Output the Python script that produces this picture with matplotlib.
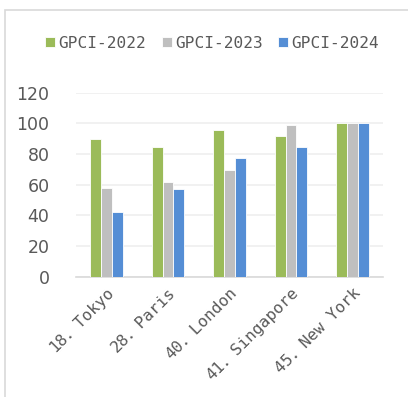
import numpy as np
import matplotlib
matplotlib.use("Agg")
import matplotlib.pyplot as plt
from matplotlib.patches import Rectangle

# GPCI scores by city
cities = ["18．Tokyo", "28．Paris", "40．London", "41．Singapore", "45．New York"]
gpci_2022 = [90, 84.6, 95.5, 92, 100]
gpci_2023 = [58, 61.8, 69.4, 99, 100]
gpci_2024 = [42, 57, 77.6, 84.6, 100]
series_names = ["GPCI-2022", "GPCI-2023", "GPCI-2024"]
colors = ["#9BBB59", "#BFBFBF", "#558ED5"]

mono_font = ["DejaVu Sans Mono", "Noto Sans CJK JP"]
text_color = "#595959"

fig = plt.figure(figsize=(4.08, 3.97), dpi=100)
ax = fig.add_axes([0.186, 0.303, 0.753, 0.4635])

# chart frame
fig.patches.append(Rectangle((5 / 408, -0.1), 1.2, 1 - 10 / 397 + 0.1,
                             transform=fig.transFigure, fill=False,
                             edgecolor="#D9D9D9", linewidth=1.2))

x = np.arange(len(cities))
w = 0.175
for i, (vals, name, c) in enumerate(zip([gpci_2022, gpci_2023, gpci_2024], series_names, colors)):
    ax.bar(x + (i - 1) * w, vals, width=w, color=c, edgecolor="white",
           linewidth=0.6, label=name, zorder=3)

ax.set_xlim(-0.5, len(cities) - 0.5)
ax.set_ylim(0, 120)
ax.set_yticks(range(0, 121, 20))
ax.yaxis.grid(True, color="#EFEFEF", linewidth=1.2, zorder=0)
for s in ["top", "right", "left"]:
    ax.spines[s].set_visible(False)
ax.spines["bottom"].set_color("#D9D9D9")
ax.spines["bottom"].set_linewidth(1.2)
ax.tick_params(axis="both", length=0, colors=text_color)
ax.tick_params(axis="y", labelsize=12.5, pad=19)

ax.set_xticks(x)
ax.set_xticklabels(cities, rotation=45, ha="right", va="top",
                   rotation_mode="anchor", family=mono_font, fontsize=11.6,
                   color=text_color)
ax.tick_params(axis="x", pad=6)

fig.legend(loc="center", bbox_to_anchor=(0.52, 1 - 43 / 397), ncol=3,
           frameon=False, prop={"family": mono_font, "size": 11.6},
           labelcolor=text_color, handlelength=0.62, handleheight=0.62,
           handletextpad=0.2, columnspacing=0.95)

fig.savefig("out.png", dpi=100)
